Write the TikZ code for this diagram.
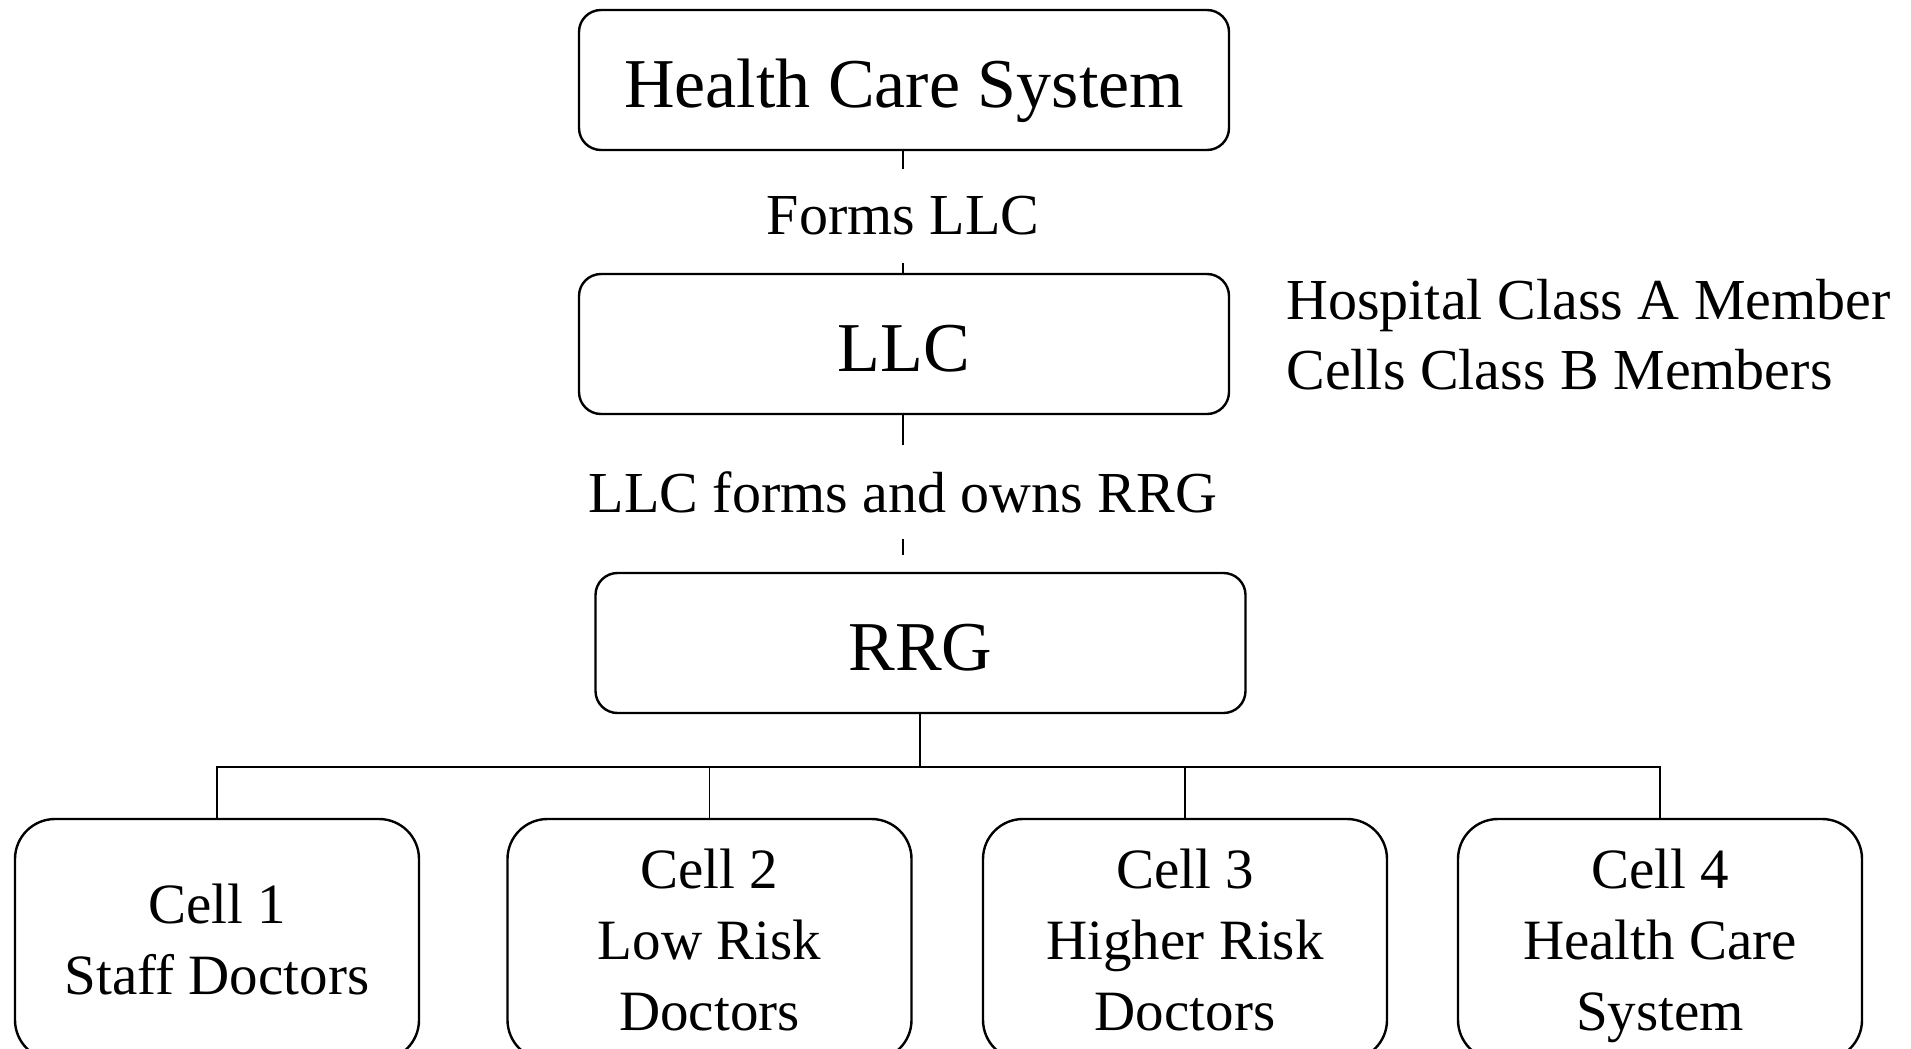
\documentclass[tikz,border=0pt]{standalone}
\usepackage{fontspec}
\setmainfont{Liberation Serif}
\begin{document}
\begin{tikzpicture}[x=0.5pt,y=-0.5pt,
  box/.style={draw=black,line width=1.2pt,rounded corners=11pt,minimum width=325pt,minimum height=70pt,inner sep=0pt,font=\fontsize{35}{42}\selectfont,text height=29.8pt,text depth=2.6pt},
  cellbox/.style={draw=black,line width=1.2pt,rounded corners=20pt,minimum width=202pt,minimum height=120.5pt,inner sep=0pt,align=center,font=\fontsize{28.5}{35.5}\selectfont,text depth=0pt},
  lbl/.style={inner sep=0pt,minimum height=47pt,font=\fontsize{29}{35}\selectfont},
  conn/.style={line width=0.9pt}]
\useasboundingbox (0,0) rectangle (1911,1049);
\node[box] (hcs) at (904,80) {Health Care System};
\node[box] (llc) at (904,344) {LLC};
\node[box] (rrg) at (920.5,643) {RRG};
\node[lbl] (l1) at (903,216) {Forms LLC};
\node[lbl] (l2) at (903,492) {LLC forms and owns RRG};
\coordinate (l2end) at (903,555);
\node[anchor=west,align=left,inner sep=0pt,font=\fontsize{29}{35}\selectfont] (side) at (1286,335) {Hospital Class A Member\\Cells Class B Members};
\node[cellbox] (c1) at (217,939.5) {Cell 1\\Staff Doctors};
\node[cellbox] (c2) at (709.5,939.5) {Cell 2\\Low Risk\\Doctors};
\node[cellbox] (c3) at (1185,939.5) {Cell 3\\Higher Risk\\Doctors};
\node[cellbox] (c4) at (1660,939.5) {Cell 4\\Health Care\\System};
\coordinate (bus) at (920,767);
\draw[conn] (hcs.south -| l1) -- (l1.north);
\draw[conn] (l1.south) -- (llc.north -| l1);
\draw[conn] (llc.south -| l2) -- (l2.north);
\draw[conn] (l2.south) -- (l2end);
\draw[conn] (rrg.south -| bus) -- (bus);
\draw[conn] (c1.north) |- (bus) -| (c4.north);
\draw[conn] (c2.north) -- (c2.north |- bus);
\draw[conn] (c3.north) -- (c3.north |- bus);
\end{tikzpicture}
\end{document}
